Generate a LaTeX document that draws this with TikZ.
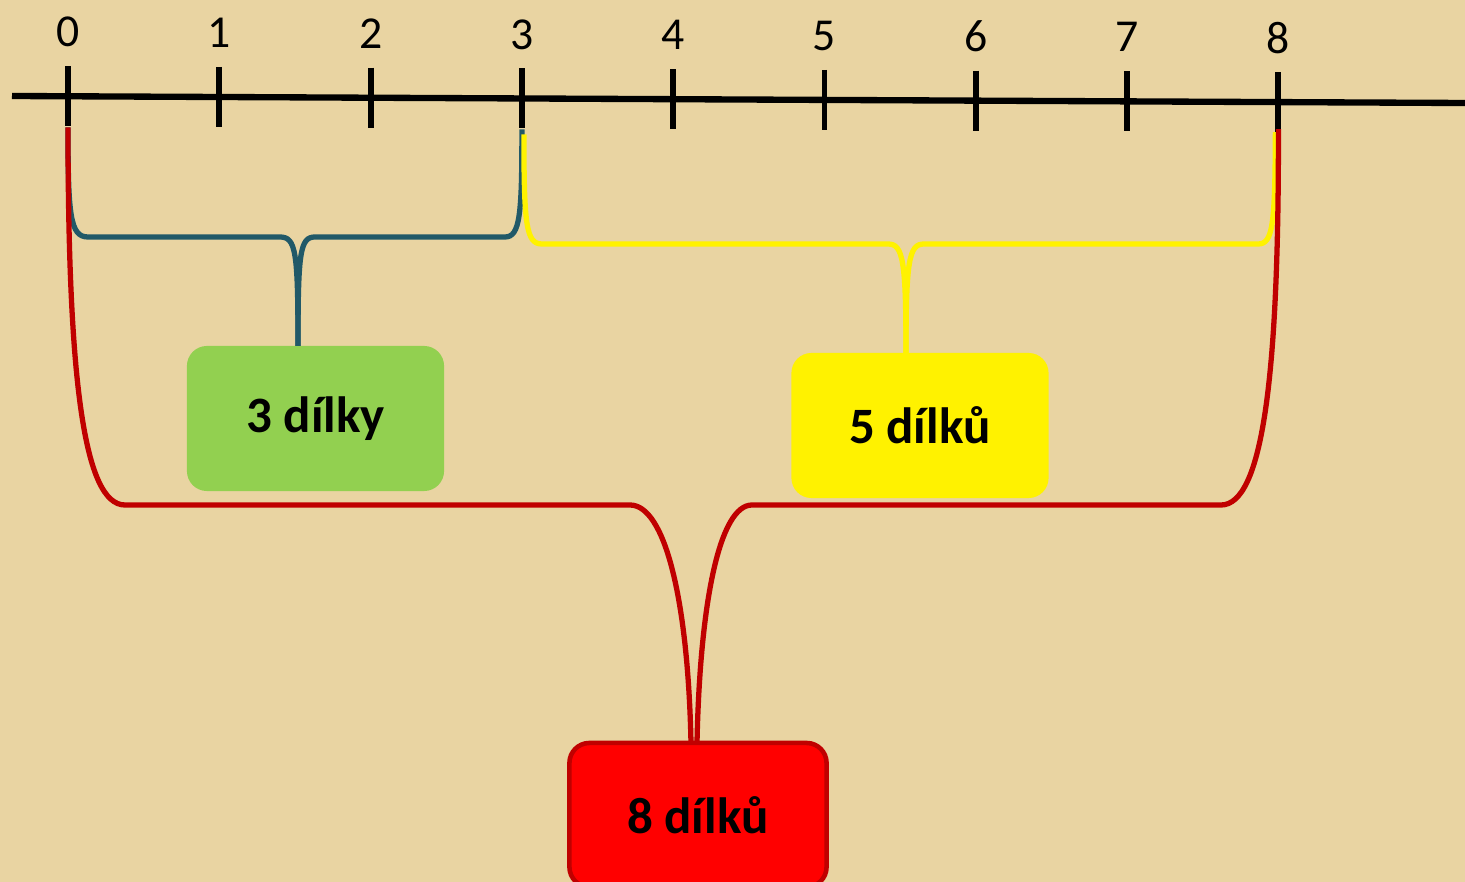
\documentclass[tikz,border=0pt]{standalone}
\usepackage{fontspec}
\setmainfont{Carlito}
\usepackage{tikz}
\usetikzlibrary{positioning}

\definecolor{papyrus}{RGB}{233,212,162}
\definecolor{tealbr}{RGB}{33,89,104}
\definecolor{greenbox}{RGB}{146,208,80}
\definecolor{darkred}{RGB}{192,0,0}

\begin{document}
\begin{tikzpicture}[x=0.01cm,y=-0.01cm,
    num/.style={font=\fontsize{13}{15}\selectfont},
    box/.style={rounded corners=0.2cm,minimum width=2.57cm,minimum height=1.45cm,
                font=\fontsize{14.5}{17}\selectfont\bfseries},
    brace/.style={line width=1.5pt}]

    \useasboundingbox (0,0) rectangle (1465,882);
    \fill[papyrus] (0,0) rectangle (1465,882);

    % number line
    \coordinate (a) at (12,96);
    \coordinate (b) at (1465,103);
    \draw[line width=1.8pt] (a) -- (b);
    \foreach \i in {0,...,8} {
        \coordinate (t\i) at ({68+151.3*\i},{96.3+0.72*\i});
        \draw[line width=1.7pt] ([yshift=0.3cm]t\i) -- ([yshift=-0.3cm]t\i);
        \node[num] (n\i) at ([yshift=0.64cm]t\i) {\i};
    }

    % boxes
    \node[box,fill=greenbox]                     (g) at (315.5,418.5) {3 dílky};
    \node[box,fill=yellow]                       (y) at (920,425.5)   {5 dílků};
    \node[box,fill=red,draw=darkred,line width=1.3pt,minimum height=1.44cm] (r) at (698,815) {8 dílků};

    \coordinate (tg) at (298,346);
    \coordinate (ty) at (906,353);
    \coordinate (trl) at (691,743);
    \coordinate (trr) at (697,743);

    % 3 parts
    \draw[brace,tealbr] ([yshift=-0.31cm]t0) .. controls (68,215) and (70,237) .. (88,237)
        -- (280,237) .. controls (296,237) and (298,252) .. (tg);
    \draw[brace,tealbr] ([yshift=-0.31cm]t3) .. controls (522,215) and (520,237) .. (505,237)
        -- (315,237) .. controls (300,237) and (298,252) .. (tg);

    % 5 parts
    \draw[brace,yellow] ([xshift=0.02cm,yshift=-0.36cm]t3) .. controls (524,225) and (526,244) .. (542,244)
        -- (888,244) .. controls (903,244) and (906,260) .. (ty);
    \draw[brace,yellow] ([xshift=-0.03cm,yshift=-0.3cm]t8) .. controls (1275,225) and (1273,244) .. (1258,244)
        -- (924,244) .. controls (909,244) and (906,260) .. (ty);

    % 8 parts
    \draw[brace,darkred] ([yshift=-0.31cm]t0) .. controls (68,380) and (84,505) .. (125,505)
        -- (630,505) .. controls (665,505) and (688,600) .. (trl);
    \draw[brace,darkred] ([yshift=-0.27cm]t8) .. controls (1279,380) and (1262,505) .. (1221,505)
        -- (752,505) .. controls (720,505) and (700,600) .. (trr);
\end{tikzpicture}
\end{document}
